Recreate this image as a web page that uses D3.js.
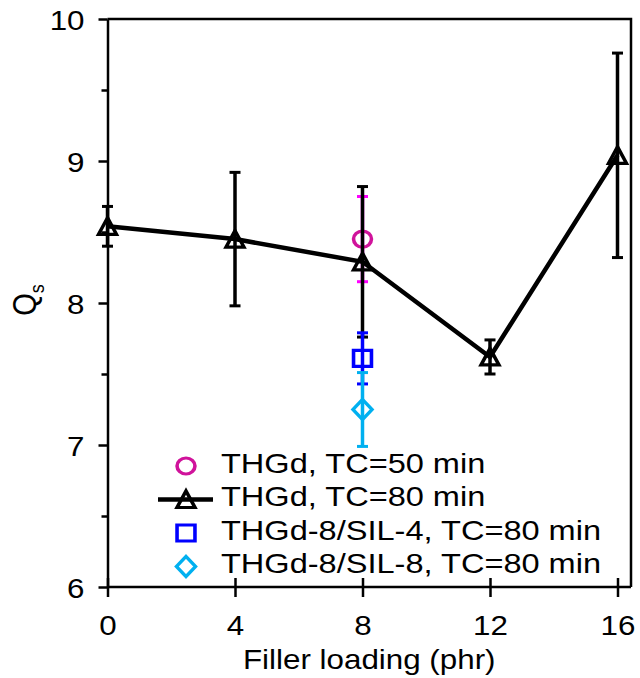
<!DOCTYPE html>
<html>
<head>
<meta charset="utf-8">
<script src="https://cdn.jsdelivr.net/npm/d3@7"></script>
<style>
  body { margin: 0; background: #fff; }
  svg text { font-family: "Liberation Sans", Arial, sans-serif; fill: #000; }
</style>
</head>
<body>
<svg id="chart" width="640" height="678"></svg>
<script>
// values
const loading = [0, 4, 8, 12, 16]
const qs80 = [8.54, 8.45, 8.29, 7.62, 9.04]
const err80 = [0.14, 0.47, 0.53, 0.12, 0.72]

const loading8 = [8]
const qs50 = [8.45]
const err50 = [0.30]
const qsSil4 = [7.61]
const errSil4 = [0.18]
const qsSil8 = [7.25]
const errSil8 = [0.26]

const xTicks = [0, 4, 8, 12, 16]
const yTicks = [6, 7, 8, 9, 10]
const yMinor = [6.5, 7.5, 8.5, 9.5]
const legendLabels = ["THGd, TC=50 min", "THGd, TC=80 min", "THGd-8/SIL-4, TC=80 min", "THGd-8/SIL-8, TC=80 min"]

// the source picture is a bit wider than tall, so text and markers get stretched
const sx = 1.12

let svg = d3.select("#chart")

let x = d3.scaleLinear().domain([0, 16]).range([107.5, 617.5])
let y = d3.scaleLinear().domain([6, 10]).range([587, 19])
let xRight = x.invert(631)

// frame (top and right)
svg.append("path")
    .attr("d", `M${x(0)},${y(10)}H${x(xRight)}V${y(6)}`)
    .attr("fill", "none")
    .attr("stroke", "#000")
    .attr("stroke-width", 2.5)

// y axis
let yAxis = svg.append("g")
    .attr("transform", `translate(${x(0)},0)`)
    .call(d3.axisLeft(y).tickValues(yTicks).tickFormat(d3.format("d")).tickSize(9).tickSizeOuter(0))
yAxis.select(".domain").attr("stroke-width", 2.5)
yAxis.selectAll(".tick line").attr("stroke-width", 2.5)
yAxis.selectAll(".tick text")
    .attr("font-size", 28)
    .attr("font-family", null)
    .attr("x", -23 / sx)
    .attr("dy", 10)
    .attr("transform", `scale(${sx},1)`)

svg.append("g")
    .attr("transform", `translate(${x(0)},0)`)
    .call(d3.axisLeft(y).tickValues(yMinor).tickSize(6).tickSizeOuter(0).tickFormat(""))
    .call(g => g.select(".domain").remove())
    .selectAll(".tick line").attr("stroke-width", 2.5)

// x axis, ticks cross the line
let xAxis = svg.append("g")
    .attr("transform", `translate(0,${y(6)})`)
    .call(d3.axisBottom(x).tickValues(xTicks).tickFormat(d3.format("d")).tickSizeOuter(0))
xAxis.select(".domain")
    .attr("d", `M${x(0)},0H${x(xRight)}`)
    .attr("stroke-width", 2.5)
xAxis.selectAll(".tick line")
    .attr("y1", -9)
    .attr("y2", 10)
    .attr("stroke-width", 2.5)
xAxis.selectAll(".tick text")
    .attr("font-size", 28)
    .attr("font-family", null)
    .attr("x", 0)
    .attr("y", 48)
    .attr("dy", 0)
    .attr("text-anchor", "middle")
    .attr("transform", `scale(${sx},1)`)

svg.append("text")
    .attr("x", (x(0) + x(xRight)) / 2 / sx)
    .attr("y", 669)
    .attr("transform", `scale(${sx},1)`)
    .attr("text-anchor", "middle")
    .attr("font-size", 28)
    .text("Filler loading (phr)")

let yTitle = svg.append("text")
    .attr("transform", `translate(36,300) scale(${sx},1) rotate(-90)`)
    .attr("text-anchor", "middle")
    .attr("font-size", 29)
yTitle.append("tspan").text("Q")
yTitle.append("tspan").attr("font-size", 18).attr("dy", 7).text("s")

// marker shapes
function markerPath(kind) {
  if (kind == "circle") return d3.symbol(d3.symbolCircle, Math.PI * 8 * 8)()
  if (kind == "square") return "M-8,-8H8V8H-8Z"
  if (kind == "diamond") return "M0,-10L8.5,0L0,10L-8.5,0Z"
  return "M0,-8.5L8,8H-8Z"
}

function errorBars(xs, vs, es, color) {
  let g = svg.append("g").attr("stroke", color).attr("fill", "none")
  xs.forEach((xv, i) => {
    let cx = x(xv)
    g.append("line")
        .attr("x1", cx).attr("x2", cx)
        .attr("y1", y(vs[i] + es[i])).attr("y2", y(vs[i] - es[i]))
        .attr("stroke-width", 3.5)
    for (let v of [vs[i] + es[i], vs[i] - es[i]]) {
      g.append("line")
          .attr("x1", cx - 5.5).attr("x2", cx + 5.5)
          .attr("y1", y(v)).attr("y2", y(v))
          .attr("stroke-width", 3)
    }
  })
}

function markers(xs, vs, kind, color) {
  svg.append("g").selectAll("path")
      .data(xs)
      .enter().append("path")
      .attr("d", markerPath(kind))
      .attr("transform", (d, i) => `translate(${x(d)},${y(vs[i])}) scale(${sx},1)`)
      .attr("fill", "none")
      .attr("stroke", color)
      .attr("stroke-width", 3.2)
}

// THGd TC=50
errorBars(loading8, qs50, err50, "#ff00ff")
markers(loading8, qs50, "circle", "#d0139b")

// THGd TC=80
errorBars(loading, qs80, err80, "#000")
svg.append("path")
    .datum(loading)
    .attr("d", d3.line().x(d => x(d)).y((d, i) => y(qs80[i])))
    .attr("fill", "none")
    .attr("stroke", "#000")
    .attr("stroke-width", 4.5)
markers(loading, qs80, "triangle", "#000")

// THGd-8/SIL-4
errorBars(loading8, qsSil4, errSil4, "#0000ff")
markers(loading8, qsSil4, "square", "#0000ff")

// THGd-8/SIL-8
errorBars(loading8, qsSil8, errSil8, "#00b0f0")
markers(loading8, qsSil8, "diamond", "#00b0f0")

// legend
const legendKinds = ["circle", "triangle", "square", "diamond"]
const legendColors = ["#d0139b", "#000", "#0000ff", "#00b0f0"]
let legend = svg.append("g")
legendLabels.forEach((label, i) => {
  let ly = 466 + i * 33.5
  if (legendKinds[i] == "triangle") {
    legend.append("line")
        .attr("x1", 158).attr("x2", 213)
        .attr("y1", ly).attr("y2", ly)
        .attr("stroke", "#000")
        .attr("stroke-width", 4.5)
  }
  legend.append("path")
      .attr("d", markerPath(legendKinds[i]))
      .attr("transform", `translate(186,${ly}) scale(${sx},1)`)
      .attr("fill", "none")
      .attr("stroke", legendColors[i])
      .attr("stroke-width", 3.2)
  legend.append("text")
      .attr("x", 221 / sx)
      .attr("y", ly + 7)
      .attr("transform", `scale(${sx * 1.02},1)`)
      .attr("x", 221 / (sx * 1.02))
      .attr("font-size", 28.5)
      .text(label)
})
</script>
</body>
</html>
